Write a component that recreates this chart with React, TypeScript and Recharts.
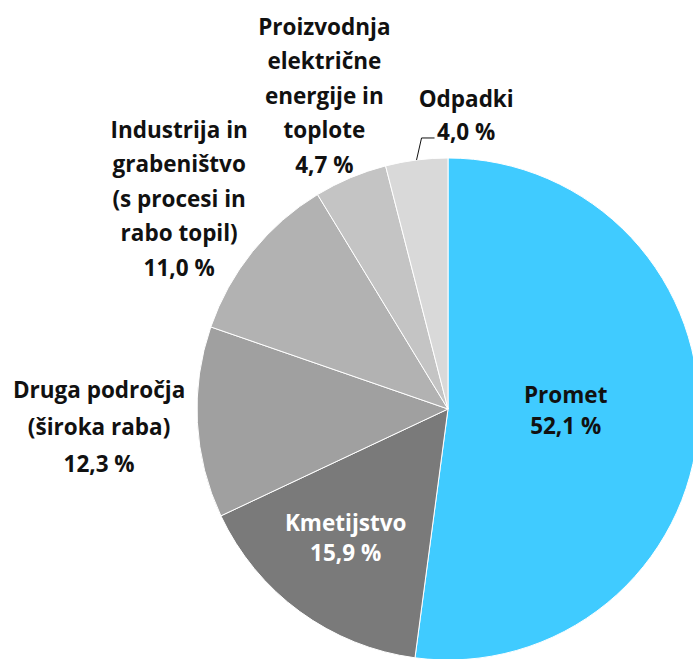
import { Cell, Pie, PieChart } from "recharts";

const categories = [
  "Promet",
  "Kmetijstvo",
  "Druga področja (široka raba)",
  "Industrija in grabeništvo (s procesi in rabo topil)",
  "Proizvodnja električne energije in toplote",
  "Odpadki",
];
const shares = [52.1, 15.9, 12.3, 11.0, 4.7, 4.0];
// label text split in lines, as printed on the chart
const labelLines = [
  ["Promet"],
  ["Kmetijstvo"],
  ["Druga področja", "(široka raba)"],
  ["Industrija in", "grabeništvo", "(s procesi in", "rabo topil)"],
  ["Proizvodnja", "električne", "energije in", "toplote"],
  ["Odpadki"],
];

const colors = ["#40CBFF", "#7A7A7A", "#A0A0A0", "#B2B2B2", "#C4C4C4", "#D9D9D9"];
const textColors = ["#111", "#fff", "#111", "#111", "#111", "#111"];
// label radius (fraction of outer radius) and nudges
const labelPos = [
  { r: 0.47, dx: 0, dy: -7, lh: 31 },
  { r: 0.65, dx: -6, dy: -4, lh: 30 },
  { r: 1.42, dx: 7, dy: -2, lh: 37 },
  { r: 1.34, dx: -7, dy: 0, lh: 34.5 },
  { r: 1.35, dx: 8, dy: -2, lh: 34.5 },
  { r: 1.17, dx: 55, dy: -3, lh: 33 },
];

const data = categories.map((name, i) => ({ name, value: shares[i] }));

const RAD = Math.PI / 180;

function fmt(v: number) {
  return v.toFixed(1).replace(".", ",") + " %";
}

function renderLabel(props: any) {
  const { cx, cy, midAngle, outerRadius, index, value } = props;
  const p = labelPos[index];
  const x = cx + outerRadius * p.r * Math.cos(-midAngle * RAD) + p.dx;
  const y = cy + outerRadius * p.r * Math.sin(-midAngle * RAD) + p.dy;
  const lines = [...labelLines[index], fmt(value)];
  const top = y - ((lines.length - 1) * p.lh) / 2;
  let leader = null;
  if (index === 5) {
    // small leader line from the slice edge to the label
    const ex = cx + outerRadius * Math.cos(-midAngle * RAD);
    const ey = cy + outerRadius * Math.sin(-midAngle * RAD);
    leader = (
      <polyline
        points={`${ex},${ey} ${ex + 5},${ey - 22} ${ex + 18},${ey - 22}`}
        fill="none"
        stroke="#111"
        strokeWidth={1}
      />
    );
  }
  return (
    <g>
      {leader}
      <text
        x={x}
        y={top}
        textAnchor="middle"
        dominantBaseline="central"
        fill={textColors[index]}
        fontFamily="'Open Sans', sans-serif"
        fontWeight={700}
        fontSize={22.5}
      >
        {lines.map((l, i) => (
          <tspan key={i} x={x} y={top + i * p.lh}>
            {l}
          </tspan>
        ))}
      </text>
    </g>
  );
}

export default function App() {
  return (
    <div style={{ position: "absolute", left: 0, top: 0, width: 693, height: 659, background: "#fff", overflow: "hidden" }}>
      <PieChart width={693} height={659} margin={{ top: 0, right: 0, bottom: 0, left: 0 }}>
        <Pie
          data={data}
          dataKey="value"
          nameKey="name"
          cx={448}
          cy={409}
          outerRadius={251}
          startAngle={90}
          endAngle={-270}
          stroke="#fff"
          strokeWidth={1}
          label={renderLabel}
          labelLine={false}
          isAnimationActive={false}
        >
          {data.map((d, i) => (
            <Cell key={d.name} fill={colors[i]} />
          ))}
        </Pie>
      </PieChart>
    </div>
  );
}
